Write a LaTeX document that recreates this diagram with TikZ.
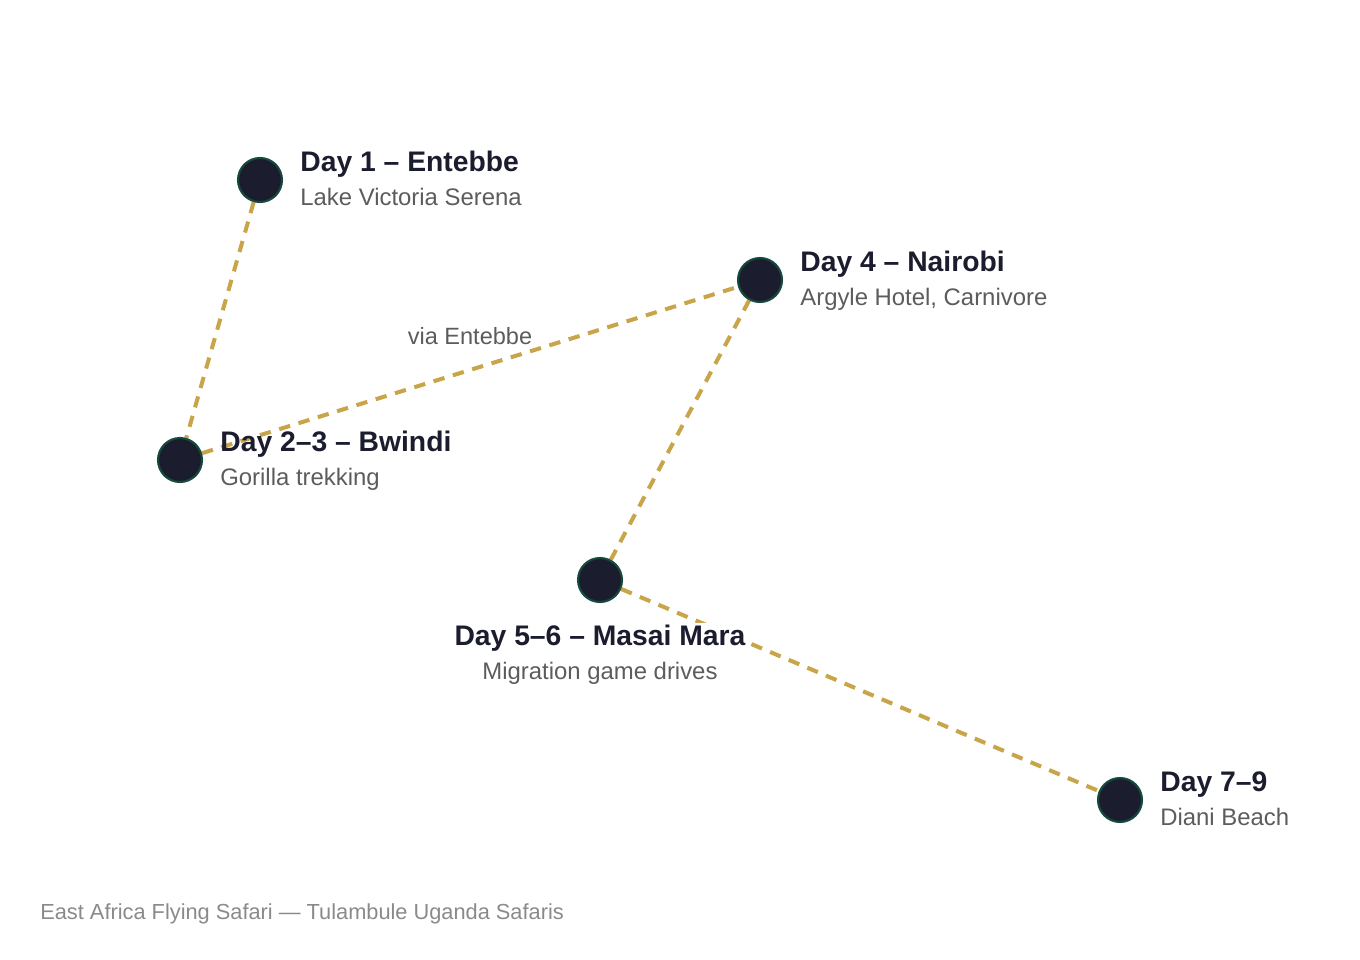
\documentclass[tikz,border=0pt]{standalone}
\usepackage{fontspec}
\setmainfont{Liberation Sans}
\usetikzlibrary{calc}
\usetikzlibrary{backgrounds}

\definecolor{navy}{HTML}{1B1D2F}
\definecolor{pine}{HTML}{164A3C}
\definecolor{gold}{HTML}{C8A548}
\definecolor{subgray}{HTML}{5C5C5C}
\definecolor{footgray}{HTML}{8A8A8A}

\tikzset{
 stop/.style={circle, fill=navy, draw=pine, line width=1.2pt, minimum size=0.88cm, inner sep=0},
 leg/.style={gold, line width=2.3pt, dash pattern=on 6.5pt off 5pt},
 daytitle/.style={text=navy, font=\fontsize{16.1}{18}\selectfont\bfseries, inner sep=0},
 daysub/.style={text=subgray, font=\fontsize{13.6}{16}\selectfont, inner sep=0}
}

\begin{document}
\begin{tikzpicture}[x=0.02cm, y=-0.02cm]
\useasboundingbox (0,0) rectangle (1360,960);
\node[stop] (entebbe) at (260,180) {};
\node[stop] (bwindi) at (180,460) {};
\node[stop] (nairobi) at (760,280) {};
\node[stop] (mara) at (600,580) {};
\node[stop] (diani) at (1120,800) {};
%% labels
\node[daytitle, anchor=base west] (entebbeT) at (300,171) {Day 1 -- Entebbe};
\node[daysub, anchor=base west] (entebbeS) at (300,205) {Lake Victoria Serena};
\node[daytitle, anchor=base west] (bwindiT) at (220,451) {Day 2--3 -- Bwindi};
\node[daysub, anchor=base west] (bwindiS) at (220,485) {Gorilla trekking};
\node[daytitle, anchor=base west] (nairobiT) at (800,271) {Day 4 -- Nairobi};
\node[daysub, anchor=base west] (nairobiS) at (800,305) {Argyle Hotel, Carnivore};
\node[daytitle, anchor=base, fill=white, inner sep=1] (maraT) at (600,645) {Day 5--6 -- Masai Mara};
\node[daysub, anchor=base] (maraS) at (600,679) {Migration game drives};
\node[daytitle, anchor=base west] (dianiT) at (1160,791) {Day 7--9};
\node[daysub, anchor=base west] (dianiS) at (1160,825) {Diani Beach};
\node[text=subgray, font=\fontsize{13.4}{15}\selectfont, anchor=base, inner sep=0] (via) at (470,344) {via Entebbe};
\node[text=footgray, font=\fontsize{12.4}{14}\selectfont, anchor=base west, inner sep=0] (foot) at (40,919) {East Africa Flying Safari --- Tulambule Uganda Safaris};
%% flight legs
\begin{scope}[on background layer]
\draw[leg] (entebbe)--(bwindi);
\draw[leg] (bwindi)--(nairobi);
\draw[leg] (nairobi)--(mara);
\draw[leg] (mara)--(diani);
\end{scope}
\end{tikzpicture}
\end{document}
